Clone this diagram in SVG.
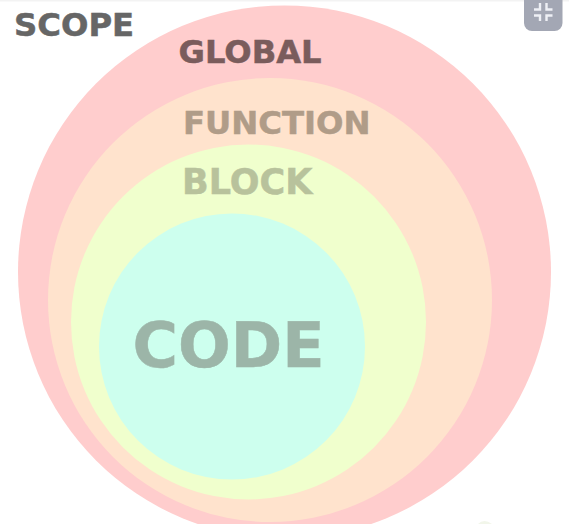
<svg xmlns="http://www.w3.org/2000/svg" width="569" height="524" viewBox="0 0 569 524">
<style>
text{font-family:"DejaVu Sans",sans-serif;font-weight:700;stroke-width:.5;paint-order:stroke}
</style>
<rect width="569" height="524" fill="#fff"/>
<rect width="569" height="1.5" fill="#f3f3f3"/>
<path d="M478 524Q484 518 492 524Z" fill="#f2f6ea"/>
<g id="global"><circle cx="284.5" cy="272" r="266.5" fill="#ffcdcd"/></g>
<g id="function"><circle cx="270" cy="300" r="222" fill="#ffe3cd"/></g>
<g id="block"><circle cx="248.5" cy="322" r="177.5" fill="#f0ffcd"/></g>
<g id="code"><circle cx="232" cy="346.5" r="133" fill="#cdffee"/></g>
<text x="14" y="36" font-size="32.3" fill="#666666" stroke="#666666">SCOPE</text>
<text x="178.500" y="63" font-size="32.2" fill="#7a5c5c" stroke="#7a5c5c">GLOBAL</text>
<text x="183" y="134" font-size="32.3" fill="#b09c88" stroke="#b09c88">FUNCTION</text>
<text x="182" y="194" font-size="35" fill="#b8c29c" stroke="#b8c29c">BLOCK</text>
<text x="132.500" y="367" font-size="62" fill="#9cb5a8" stroke="#9cb5a8">CODE</text>
<g id="button">
<path d="M524 0H562.500V23a8 8 0 0 1-8 8H532a8 8 0 0 1-8-8Z" fill="#a3a7b4"/>
<path d="M540 3V9.500H534M546.500 3V9.500H552.500M540 21V15.500H534M546.500 21V15.500H552.500" fill="none" stroke="#eef0f5" stroke-width="2.4"/>
</g>
</svg>
